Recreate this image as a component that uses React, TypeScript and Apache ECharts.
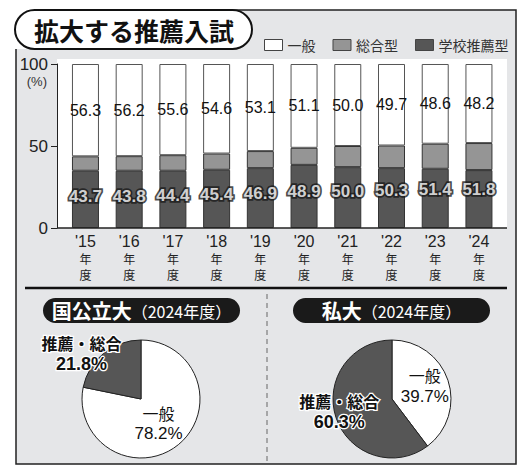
import React, { useEffect, useRef } from 'react';
import * as echarts from 'echarts';

const years = ["'15", "'16", "'17", "'18", "'19", "'20", "'21", "'22", "'23", "'24"];
const generalShare = [56.3, 56.2, 55.6, 54.6, 53.1, 51.1, 50.0, 49.7, 48.6, 48.2];
const comprehensiveShare = [8.8, 8.9, 9.5, 9.9, 10.4, 10.4, 12.9, 13.8, 15.3, 16.5];
const schoolRecShare = [34.9, 34.9, 34.9, 35.5, 36.5, 38.5, 37.1, 36.5, 36.1, 35.3];
const recommendTotal = [43.7, 43.8, 44.4, 45.4, 46.9, 48.9, 50.0, 50.3, 51.4, 51.8];
const legendNames = ['一般', '総合型', '学校推薦型'];
const pieNames = ['一般', '推薦・総合'];
const nationalPie = [78.2, 21.8];
const privatePie = [39.7, 60.3];

const NUM = "'Liberation Sans', Arial, sans-serif";
const CJK = "'Noto Sans CJK JP', 'Noto Sans CJK SC', sans-serif";
const SANS = "'Liberation Sans', Arial, sans-serif";

const DARK = '#565656';
const MID = '#959595';
const BG = '#e5e6e8';
const LINE = '#222';

function pieLabel(bold: boolean, offset: number[]) {
  const common: any = bold
    ? { fontWeight: 'bold', color: '#111', textBorderColor: '#fff', textBorderWidth: 2.5 }
    : { fontWeight: 'normal', color: '#111' };
  return {
    offset,
    rich: {
      n: { ...common, fontSize: 16, lineHeight: 21, fontFamily: CJK },
      v: { ...common, fontSize: bold ? 18 : 17, lineHeight: 21, fontFamily: SANS },
    },
  };
}

export default function App() {
  const ref = useRef<HTMLDivElement>(null);
  useEffect(() => {
    document.body.style.margin = '0';
    const chart = echarts.init(ref.current!, undefined, { renderer: 'svg' });
    const option: any = {
      animation: false,
      backgroundColor: '#fff',
      graphic: {
        elements: [
          { type: 'rect', z: -10, shape: { x: 16, y: 10, width: 500, height: 454 }, style: { fill: BG, stroke: LINE, lineWidth: 1.5 } },
          { type: 'rect', z: -9, shape: { x: 0, y: 0, width: 40, height: 49 }, style: { fill: '#fff' } },
          { type: 'rect', z: -8, shape: { x: 15, y: 10, width: 237, height: 39, r: 19.5 }, style: { fill: '#fff', stroke: '#111', lineWidth: 2 } },
          { type: 'text', z: -7, style: { text: '拡大する推薦入試', x: 134, y: 30, align: 'center', verticalAlign: 'middle', fontSize: 25, fontWeight: 'bold', fontFamily: CJK, fill: '#111' } },
          { type: 'rect', z: -8, shape: { x: 57, y: 59, width: 450, height: 169 }, style: { fill: '#fff' } },
          { type: 'line', z: 3, shape: { x1: 57, y1: 228, x2: 507, y2: 228 }, style: { stroke: LINE, lineWidth: 1.5 } },
          { type: 'text', z: 3, style: { text: '(%)', x: 47, y: 81, align: 'right', verticalAlign: 'middle', fontSize: 13, fontFamily: NUM, fill: '#333' } },
          { type: 'line', z: 3, shape: { x1: 25, y1: 288, x2: 507, y2: 288 }, style: { stroke: '#111', lineWidth: 2.5 } },
          { type: 'line', z: 3, shape: { x1: 267, y1: 294, x2: 267, y2: 462 }, style: { stroke: '#666', lineWidth: 1, lineDash: [5, 4] } },
          { type: 'rect', z: 3, shape: { x: 43, y: 298, width: 197, height: 25, r: 12.5 }, style: { fill: '#1a1a1a' } },
          {
            type: 'text', z: 4,
            style: {
              text: '{b|国公立大}{r|（2024年度）}', x: 141.5, y: 310.5, align: 'center', verticalAlign: 'middle', fill: '#fff',
              rich: { b: { fontSize: 20, fontWeight: 'bold', fontFamily: CJK, fill: '#fff' }, r: { fontSize: 16, fontFamily: CJK, fill: '#fff' } },
            },
          },
          { type: 'rect', z: 3, shape: { x: 293, y: 298, width: 197, height: 25, r: 12.5 }, style: { fill: '#1a1a1a' } },
          {
            type: 'text', z: 4,
            style: {
              text: '{b|私大}{r|（2024年度）}', x: 391.5, y: 310.5, align: 'center', verticalAlign: 'middle', fill: '#fff',
              rich: { b: { fontSize: 20, fontWeight: 'bold', fontFamily: CJK, fill: '#fff' }, r: { fontSize: 16, fontFamily: CJK, fill: '#fff' } },
            },
          },
        ],
      },
      legend: {
        left: 259,
        top: 33,
        itemWidth: 18,
        itemHeight: 11,
        itemGap: 17,
        icon: 'rect',
        selectedMode: false,
        textStyle: { fontSize: 14, color: '#333', fontFamily: CJK },
        data: [
          { name: legendNames[0], itemStyle: { color: '#fff', borderColor: '#444', borderWidth: 1 } },
          { name: legendNames[1], itemStyle: { color: MID, borderColor: '#444', borderWidth: 1 } },
          { name: legendNames[2], itemStyle: { color: DARK, borderColor: '#444', borderWidth: 1 } },
        ],
      },
      grid: { left: 63.6, right: 18.2, top: 64, bottom: 242 },
      xAxis: {
        type: 'category',
        data: years,
        axisLine: { show: false },
        axisTick: { show: false },
        axisLabel: {
          margin: 5,
          color: '#222',
          formatter: (v: string) => `{a|${v}}\n{b|年}\n{b|度}`,
          rich: {
            a: { fontSize: 16, lineHeight: 17, fontFamily: NUM, color: '#222' },
            b: { fontSize: 12, lineHeight: 16, fontFamily: CJK, color: '#222' },
          },
        },
      },
      yAxis: {
        type: 'value',
        min: 0,
        max: 100,
        interval: 50,
        offset: 6.6,
        axisLine: { show: true, lineStyle: { color: LINE, width: 1 } },
        axisTick: { show: true, length: 6, lineStyle: { color: LINE } },
        splitLine: { show: false },
        axisLabel: { margin: 9, fontSize: 17, color: '#222', fontFamily: NUM },
      },
      series: [
        {
          name: legendNames[2], type: 'bar', stack: 'share', barWidth: 27, data: schoolRecShare,
          itemStyle: { color: DARK, borderColor: '#333', borderWidth: 1 }, silent: true,
        },
        {
          name: legendNames[1], type: 'bar', stack: 'share', barWidth: 27, data: comprehensiveShare,
          itemStyle: { color: MID, borderColor: '#333', borderWidth: 1 }, silent: true,
        },
        {
          name: legendNames[0], type: 'bar', stack: 'share', barWidth: 27, data: generalShare,
          itemStyle: { color: '#fff', borderColor: '#555', borderWidth: 1 }, silent: true,
          label: {
            show: true, position: 'inside', color: '#111', fontSize: 16, fontFamily: NUM,
            formatter: (p: any) => Number(p.value).toFixed(1),
          },
        },
        {
          name: 'recTotalLabel', type: 'scatter', z: 5, silent: true,
          data: recommendTotal.map((t) => t / 2),
          symbolSize: 1, itemStyle: { color: 'rgba(0,0,0,0)' },
          label: {
            show: true, position: 'inside', offset: [0, 4], color: '#fff', fontSize: 17, fontWeight: 'bold', fontFamily: NUM,
            textBorderColor: '#1a1a1a', textBorderWidth: 3.5,
            formatter: (p: any) => recommendTotal[p.dataIndex].toFixed(1),
          },
        },
        {
          name: 'national', type: 'pie', center: [141, 399], radius: 59, startAngle: 90, clockwise: true, silent: true,
          itemStyle: { borderColor: '#222', borderWidth: 1 },
          labelLine: { show: false },
          label: { show: true, position: 'inside', formatter: '{n|{b}}\n{v|{c}%}' },
          emphasis: { disabled: true },
          data: [
            { name: pieNames[0], value: nationalPie[0], itemStyle: { color: '#fff' }, label: pieLabel(false, [-3, -1]) },
            { name: pieNames[1], value: nationalPie[1], itemStyle: { color: DARK }, label: pieLabel(true, [-39, -20]) },
          ],
        },
        {
          name: 'private', type: 'pie', center: [392, 399], radius: 59, startAngle: 90, clockwise: true, silent: true,
          itemStyle: { borderColor: '#222', borderWidth: 1 },
          labelLine: { show: false },
          label: { show: true, position: 'inside', formatter: '{n|{b}}\n{v|{c}%}' },
          emphasis: { disabled: true },
          data: [
            { name: pieNames[0], value: privatePie[0], itemStyle: { color: '#fff' }, label: pieLabel(false, [2, -3]) },
            { name: pieNames[1], value: privatePie[1], itemStyle: { color: DARK }, label: pieLabel(true, [-22, 2]) },
          ],
        },
      ],
    };
    chart.setOption(option);
    return () => chart.dispose();
  }, []);
  return <div ref={ref} style={{ position: 'absolute', left: 0, top: 0, width: 519, height: 470 }} />;
}
